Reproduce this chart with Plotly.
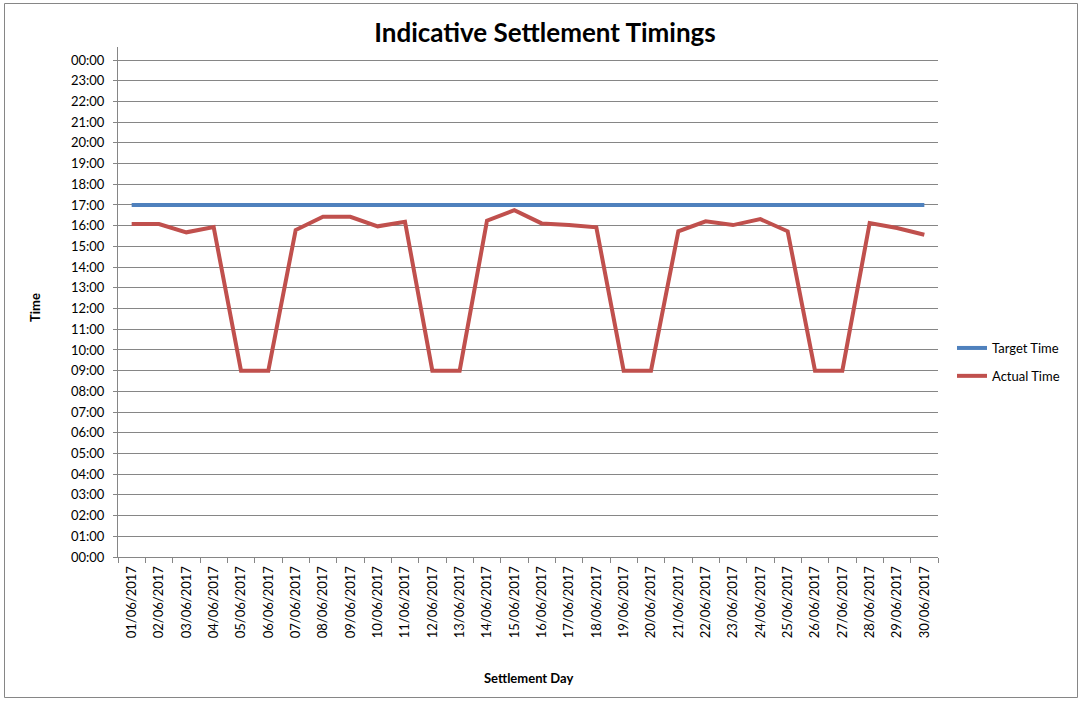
import plotly.graph_objects as go

days = [f"{d:02d}/06/2017" for d in range(1, 31)]
target_hours = [17.0] * 30
actual_hours = [16.08, 16.08, 15.68, 15.93, 9.0, 9.0, 15.79, 16.43, 16.43, 15.97,
                16.19, 9.0, 9.0, 16.24, 16.75, 16.11, 16.03, 15.92, 9.0, 9.0,
                15.73, 16.21, 16.03, 16.32, 15.73, 9.0, 9.0, 16.13, 15.89, 15.56]
y_tick_vals = list(range(0, 25))
y_tick_text = [f"{h % 24:02d}:00" for h in y_tick_vals]

FONT = "Lato, 'Open Sans', sans-serif"
GRID = "#868686"

W, H = 1085, 704
PL, PR, PT, PB = 118, 938, 47, 557  # plot area in screen pixels
L, T = PL, PT
R, B = W - PR, H - PB
pw, ph = PR - PL, PB - PT

def px_x(x):
    return (x - PL) / pw

def px_y(y):
    return (PB - y) / ph

fig = go.Figure()
fig.add_trace(go.Scatter(x=days, y=target_hours, mode="lines", name="Target Time",
                         line=dict(color="#4F81BD", width=4), legendgroup="a"))
fig.add_trace(go.Scatter(x=days, y=actual_hours, mode="lines", name="Actual Time",
                         line=dict(color="#C0504D", width=4), legendgroup="b"))

fig.update_layout(
    width=W, height=H,
    margin=dict(l=L, r=R, t=T, b=B, autoexpand=False),
    paper_bgcolor="white", plot_bgcolor="white",
    font=dict(family=FONT, size=13, color="black"),
    title=dict(text="<b>Indicative Settlement Timings</b>", x=545 / W, xanchor="center",
               y=1 - 33 / H, yanchor="middle", yref="container",
               font=dict(family=FONT, size=26, color="black")),
    showlegend=True,
    legend=dict(x=px_x(952), xanchor="left", y=px_y(362), yanchor="middle",
                font=dict(family=FONT, size=13), tracegroupgap=8,
                bgcolor="rgba(0,0,0,0)"),
    xaxis=dict(type="category", range=[-0.5, 29.5], tickangle=-90,
               showline=True, linecolor=GRID, linewidth=1,
               ticks="outside", ticklen=5, tickcolor=GRID, tickson="boundaries",
               ticklabelstandoff=3,
               showgrid=False, zeroline=False, tickfont=dict(size=13)),
    yaxis=dict(range=[0, 24.63], tickvals=y_tick_vals, ticktext=y_tick_text,
               showline=True, linecolor=GRID, linewidth=1,
               ticks="outside", ticklen=4, tickcolor=GRID, ticklabelstandoff=6,
               showgrid=True, gridcolor=GRID, gridwidth=1, zeroline=False,
               tickfont=dict(size=13)),
    annotations=[
        dict(text="<b>Time</b>", x=px_x(35), y=px_y(308), xref="paper", yref="paper",
             xanchor="center", yanchor="middle",
             textangle=-90, showarrow=False, font=dict(size=13)),
        dict(text="<b>Settlement Day</b>", x=px_x(528), y=px_y(678), xref="paper",
             yref="paper", xanchor="center", yanchor="middle",
             showarrow=False, font=dict(size=13)),
    ],
    shapes=[dict(type="rect", xref="paper", yref="paper",
                 x0=px_x(4.5), x1=px_x(1077.5), y0=px_y(697.5), y1=px_y(3.5),
                 line=dict(color=GRID, width=1), fillcolor="rgba(0,0,0,0)", layer="below")],
)

fig.write_html("out.html", config={"displayModeBar": False},
               post_script="document.body.style.margin='0';document.body.style.overflow='hidden';")
